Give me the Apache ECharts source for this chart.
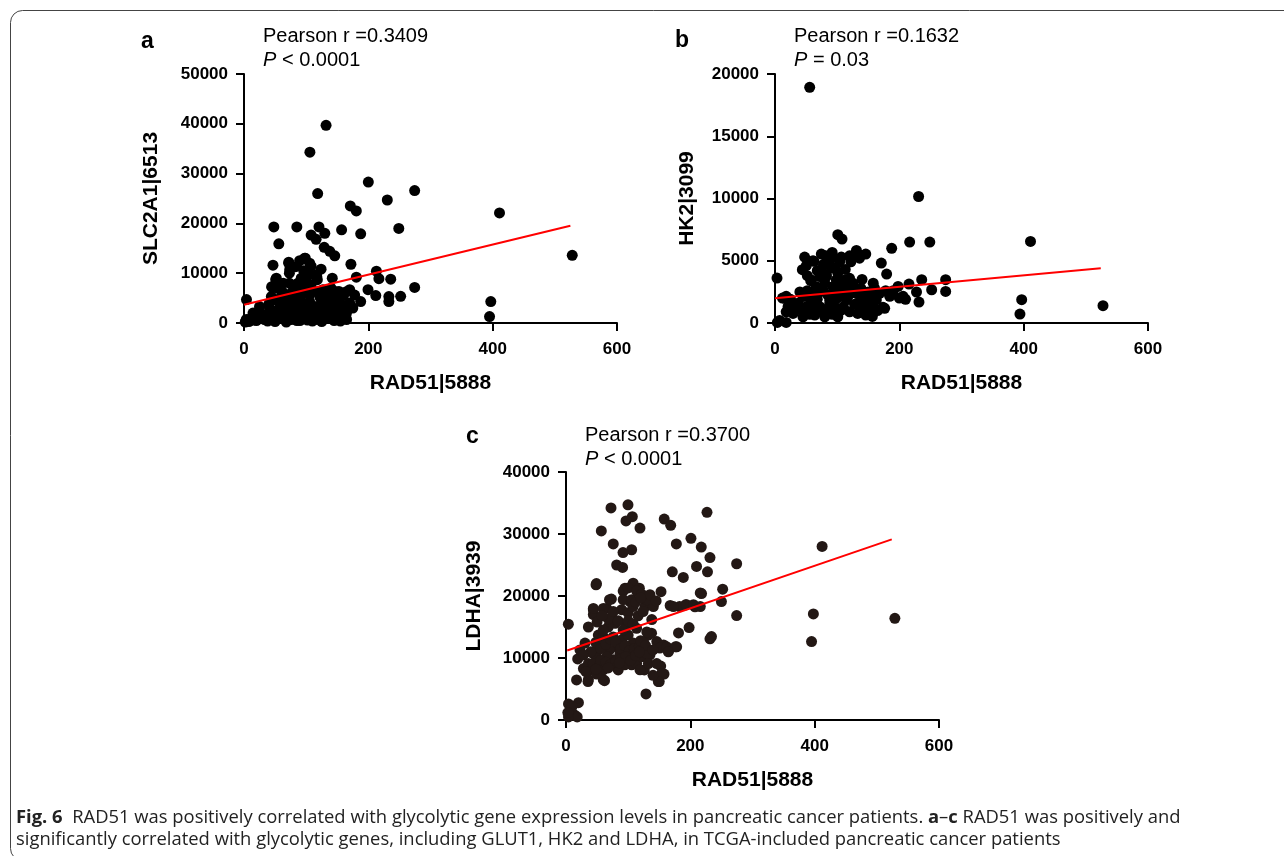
<!DOCTYPE html>
<html>
<head>
<meta charset="utf-8">
<title>Fig. 6</title>
<script src="https://cdn.jsdelivr.net/npm/echarts@6/dist/echarts.min.js"></script>
<style>
  html, body { margin: 0; padding: 0; background: #fff; }
  #chart { width: 1284px; height: 856px; }
</style>
</head>
<body>
<div id="chart"></div>
<script>
// RAD51 (x) vs glycolytic genes (y)
const slc2a1Points = [
  [132,39700],[106,34300],[118.5,26000],[200,28300],[274.5,26600],[230.5,24700],[171,23500],[180.7,22500],
  [411,22100],[48,19300],[85,19300],[120.6,19300],[157,18700],[249,19000],[187.7,17900],[108,17650],
  [116,16800],[130,18000],[56,15900],[129,15200],[138,14400],[146,13500],[528,13600],[98.6,13000],
  [72,12200],[46.6,11600],[108,11400],[172,11800],[117,9400],[52,9000],[73.5,10700],[142,9000],
  [92,9000],[180.7,9200],[213,10400],[217,8900],[236,8800],[45,7200],[274.5,7150],[199.5,6700],
  [212,5500],[233,5300],[252,5350],[233,4300],[187.7,4300],[397,4300],[395,1300],[174,3100],
  [164.6,1900],[4,4700],[154,6000],[170,6700],[51,8700],[44.6,7300],[72,12000],[73,10000],
  [73,8000],[89.5,12500],[97.6,13000],[105.6,12000],[116,9700],[78.8,6400],[60,5300],[68,5700],
  [100,6700],[119,6300],[135,5300],[148.5,6300],[154,5000],[164.6,6300],[175,3000],[164.6,2300],
  [14.5,2000],[22.5,2300],[30.6,1700],[41,3000],[3.7,700],[11.8,1000],[55,2700],[63,3700],
  [76,3000],[86.8,4300],[95,4000],[105.6,4300],[113.6,3300],[124.4,4000],[129.7,2700],[137.8,3300],
  [143,2000],[154,1700],[159.4,1000],[132.5,1000],[116.4,1300],[100,1000],[76,700],[60,1000],
  [46.6,1300],[33,700],[71,2300],[81.5,2000],[92,2700],[103,2300],[121.7,2300],[63,8000],
  [53,7000],[86.8,8000],[100,8700],[108,7700],[89.5,5700],[105.6,5700],[127,6700],[137.8,5700],
  [145.8,4700],[73,4300],[57.5,4000],[44,5300],[25,3300],[2,200],[8,300],[20,500],
  [38,400],[50,300],[68,200],[85,500],[110,400],[125,300],[145,500],[88,1300],
  [66,1500],[95,1800],[112,3000],[152.8,6350],[62,6200],[80,7200],[95,6000],[58,2000],
  [70,3500],[84,2900],[98,3400],[110,1900],[120,2900],[135,2000],[150,3000],[160,3500],
  [90,500],[102,600],[115,700],[130,1800],[140,900],[155,400],[47,2200],[35,1500],
  [28,900],[16,600],[78,5000],[85,6500],[96,7400],[110,6300],[122,5200],[128,4600],
  [140,4200],[90,3500],[66,4500],[52,4600],[40,3800],[118,8700],[124,10800],[96,10500],
  [83,11300],[104,9700],[140,7000],[160,5500],[170,4000],[165,700],[135,3900],[178,5600]
];
const slc2a1Fit = [[0,3680],[525,19520]];

const hk2Points = [
  [55.8,18930],[231,10160],[216.6,6500],[249,6500],[411,6550],[187.7,6000],[101,7090],[107.8,6740],
  [47.7,5300],[44,4280],[3.2,3610],[171,4810],[179.6,3930],[236,3480],[274.5,3480],[274.5,2540],
  [252,2670],[396.8,1870],[394,720],[527.6,1390],[231.6,1680],[215.5,3130],[198,2940],[227.6,2490],
  [206,2140],[184.5,2140],[173.7,1260],[156.6,530],[81.5,5400],[92,5670],[62.7,4950],[131,5830],
  [146,5540],[120,5400],[136,5210],[106.7,5300],[97,4410],[74.5,4280],[82.6,3740],[57.4,3400],
  [124.4,3210],[104,3080],[18,2140],[7.5,210],[18,50],[3.8,50],[15.6,1980],[21,1310],
  [18,900],[29,770],[37,1580],[45,2120],[42.4,1040],[50.4,1310],[55.8,1980],[61,2390],
  [58.4,3460],[66.4,2920],[72,3730],[77,2650],[85,2250],[93,2920],[98.6,3460],[109,2390],
  [114.8,1850],[120,2650],[125,3190],[131,2390],[136,1710],[141.6,2120],[149.7,1580],[157.7,1310],
  [163,1850],[168.3,2390],[176.4,1180],[72,1310],[82.6,900],[96,1310],[106.7,1040],[120,900],
  [133,770],[146,640],[64,640],[80,500],[101,500],[45,500],[50.4,4600],[61,5000],
  [91,5400],[74.5,5540],[82.6,3860],[90.6,4410],[101,4010],[112,3460],[122,4920],[136,5460],
  [120,3590],[104,4920],[30,1500],[88,1800],[112,2800],[150,2500],[160,2800],[190,2600],
  [210,1900],[25,1900],[12,2000],[35,1200],[40,2500],[52,2600],[56,700],[68,1900],
  [75,1100],[88,1500],[92,700],[100,2000],[110,1300],[118,2200],[128,1500],[138,2800],
  [145,1900],[155,2200],[165,1000],[62,1300],[70,2400],[80,3200],[95,2500],[105,2600],
  [115,3100],[127,2700],[140,1200],[150,900],[178,2600],[200,2000],[68,4200],[78,4700],
  [113,4300],[128,5400],[88,5000],[52,3800],[140,3500],[158,3200]
];
const hk2Fit = [[0,1980],[524,4390]];

const ldhaPoints = [
  [72.4,34200],[99.7,34700],[106.7,32800],[96.5,32100],[119,30960],[158,32400],[168.4,31400],[226.8,33500],
  [56.8,30500],[76,28400],[105.6,27460],[91.7,27000],[177.5,28400],[201,29300],[217.6,27900],[231.6,26200],
  [412,28000],[274.5,25200],[210,24770],[227.6,23900],[171,23900],[188.7,23000],[81.5,25000],[91,24600],
  [48.3,21800],[108,22070],[94.9,21270],[118,21270],[152.8,20700],[252,21100],[218,20400],[73,19500],
  [135,19900],[103,19100],[127,18300],[140.5,18300],[167.6,18470],[182.7,18300],[192.4,18570],[207.5,18250],
  [250,19110],[44,17770],[65.4,18000],[274.5,16850],[397.9,17100],[529,16400],[395,12650],[234,13460],
  [231.6,13100],[181,14050],[198,14900],[3.8,15450],[132.4,13700],[128.7,4200],[150,6200],[157.7,7400],
  [152.3,8700],[178,11800],[165,11150],[17,6460],[18.8,9850],[35.4,6200],[62,6350],[84,8080],
  [105.6,8900],[126,8080],[135,10500],[146,12650],[157,12100],[137.6,14000],[4,2600],[8,1500],
  [14,800],[18,500],[4,500],[20,2800],[10,2200],[3,1200],[22.5,11300],[30.6,12400],
  [28,8300],[36,9100],[41,8100],[36,6500],[44,10700],[49,10200],[44,9100],[52,11800],
  [55,9100],[60,8100],[52,13700],[60,13400],[36,15000],[44,17000],[44,18000],[60,18000],
  [70,19400],[73.5,16500],[79,15600],[68,15000],[76,13400],[81.5,11800],[70,11300],[86.8,10700],
  [89.5,12900],[76,9700],[65.4,10200],[92,20800],[100,21300],[92,19400],[105.6,19400],[113.6,20800],
  [121.7,20300],[130,19400],[135,20200],[89.5,17800],[97.6,15300],[100,13700],[108,12400],[105.6,10800],
  [113.6,9100],[119,8100],[121.7,10200],[130,10700],[132.5,9100],[130,14200],[113.6,14800],[100,17300],
  [108,18300],[151,11600],[162,11800],[176,11800],[164.6,11000],[146,9100],[154,7500],[148.5,6200],
  [60,6500],[94.5,8900],[49,7400],[172.6,18300],[194,18600],[205,18600],[216,18300],[216,20500],
  [49,22000],[40,11000],[48,12500],[56,11500],[64,12200],[72,13000],[80,12600],[88,11500],
  [95,12000],[102,11200],[110,11500],[118,11900],[125,12500],[56,9600],[64,9300],[72,9000],
  [80,9400],[88,9800],[96,10200],[104,9600],[112,10400],[120,12800],[128,12000],[140,11300],
  [60,14500],[68,16300],[76,17500],[84,16000],[92,14500],[100,16000],[108,15500],[116,16800],
  [124,17500],[138,16200],[145,19200],[112,19000],[120,19700],[50,15800],[58,16800],[28,10500],
  [32,7800],[48,8200],[68,8400],[86,9200],[140,7200],[118,11000]
];
const ldhaFit = [[2,11200],[524,29130]];

const xTicks = { min: 0, max: 600, interval: 200 };
const yTicks = [
  { max: 50000, interval: 10000 },
  { max: 20000, interval: 5000 },
  { max: 40000, interval: 10000 }
];
const yNames = ['SLC2A1|6513', 'HK2|3099', 'LDHA|3939'];
const xName = 'RAD51|5888';
const stats = [
  ['Pearson r =0.3409', '< 0.0001'],
  ['Pearson r =0.1632', '= 0.03'],
  ['Pearson r =0.3700', '< 0.0001']
];

const AR = '"Liberation Sans", Arial, Helvetica, sans-serif';
const grids = [
  { left: 244, top: 74, width: 373, height: 249 },
  { left: 775, top: 74, width: 373, height: 249 },
  { left: 566, top: 472, width: 373, height: 248 }
];
const yNameGaps = [82, 77, 81];

function plain(v) { return String(v); }

function xAxisFor(i) {
  return {
    gridIndex: i, type: 'value',
    min: xTicks.min, max: xTicks.max, interval: xTicks.interval,
    axisLine: { show: true, onZero: false, lineStyle: { color: '#000', width: 2 } },
    axisTick: { show: true, length: 8, lineStyle: { color: '#000', width: 2 } },
    splitLine: { show: false },
    axisLabel: { color: '#000', fontWeight: 'bold', fontSize: 17, fontFamily: AR, margin: 18, formatter: plain },
    name: xName, nameLocation: 'middle', nameGap: 50,
    nameTextStyle: { color: '#000', fontWeight: 'bold', fontSize: 21, fontFamily: AR }
  };
}
function yAxisFor(i) {
  return {
    gridIndex: i, type: 'value',
    min: 0, max: yTicks[i].max, interval: yTicks[i].interval,
    axisLine: { show: true, onZero: false, lineStyle: { color: '#000', width: 2 } },
    axisTick: { show: true, length: 8, lineStyle: { color: '#000', width: 2 } },
    splitLine: { show: false },
    axisLabel: { color: '#000', fontWeight: 'bold', fontSize: 17, fontFamily: AR, margin: 16, formatter: plain },
    name: yNames[i], nameLocation: 'middle', nameGap: yNameGaps[i],
    nameTextStyle: { color: '#000', fontWeight: 'bold', fontSize: 21, fontFamily: AR }
  };
}

const pointSets = [slc2a1Points, hk2Points, ldhaPoints];
const fits = [slc2a1Fit, hk2Fit, ldhaFit];
const dotColors = ['#000', '#000', '#231815'];

const series = [];
pointSets.forEach(function (pts, i) {
  series.push({
    type: 'scatter', xAxisIndex: i, yAxisIndex: i, data: pts,
    symbol: 'circle', symbolSize: 11, itemStyle: { color: dotColors[i], opacity: 1 },
    silent: true
  });
});
fits.forEach(function (line, i) {
  series.push({
    type: 'line', xAxisIndex: i, yAxisIndex: i, data: line,
    symbol: 'none', lineStyle: { color: '#ff0000', width: 2 }, z: 5, silent: true
  });
});

// panel letters, stats text, caption and frame
const statPos = [[263, 24], [794, 24], [585, 423]];
const letterPos = [[141, 30], [675, 29], [466, 425]];
const graphic = [
  {
    type: 'rect', shape: { x: 10.5, y: 10.5, width: 1290, height: 850, r: 12 },
    style: { fill: 'none', stroke: '#444', lineWidth: 1 }, silent: true
  }
];
['a', 'b', 'c'].forEach(function (l, i) {
  graphic.push({
    type: 'text', x: letterPos[i][0], y: letterPos[i][1],
    style: { text: l, fill: '#000', font: 'bold 23px ' + AR }
  });
});
stats.forEach(function (s, i) {
  graphic.push({
    type: 'text', x: statPos[i][0], y: statPos[i][1],
    style: {
      text: s[0] + '\n{i|P} ' + s[1],
      fill: '#000', font: '20px ' + AR, lineHeight: 24,
      rich: { i: { fontStyle: 'italic', fontSize: 20, fontFamily: AR, fill: '#000', lineHeight: 24 } }
    }
  });
});
const CAP = '"Open Sans", "Noto Sans", sans-serif';
graphic.push({
  type: 'text', x: 16, y: 807,
  style: {
    text: '{b|Fig. 6}  RAD51 was positively correlated with glycolytic gene expression levels in pancreatic cancer patients. {b|a}–{b|c} RAD51 was positively and\n' +
      'significantly correlated with glycolytic genes, including GLUT1, HK2 and LDHA, in TCGA-included pancreatic cancer patients',
    fill: '#222', font: '18.4px ' + CAP, lineHeight: 22,
    rich: { b: { fontWeight: 'bold', fontSize: 18.4, fontFamily: CAP, fill: '#222', lineHeight: 22 } }
  }
});

const chart = echarts.init(document.getElementById('chart'));
chart.setOption({
  animation: false,
  backgroundColor: '#fff',
  grid: grids,
  xAxis: [0, 1, 2].map(xAxisFor),
  yAxis: [0, 1, 2].map(yAxisFor),
  series: series,
  graphic: graphic
});
</script>
</body>
</html>
